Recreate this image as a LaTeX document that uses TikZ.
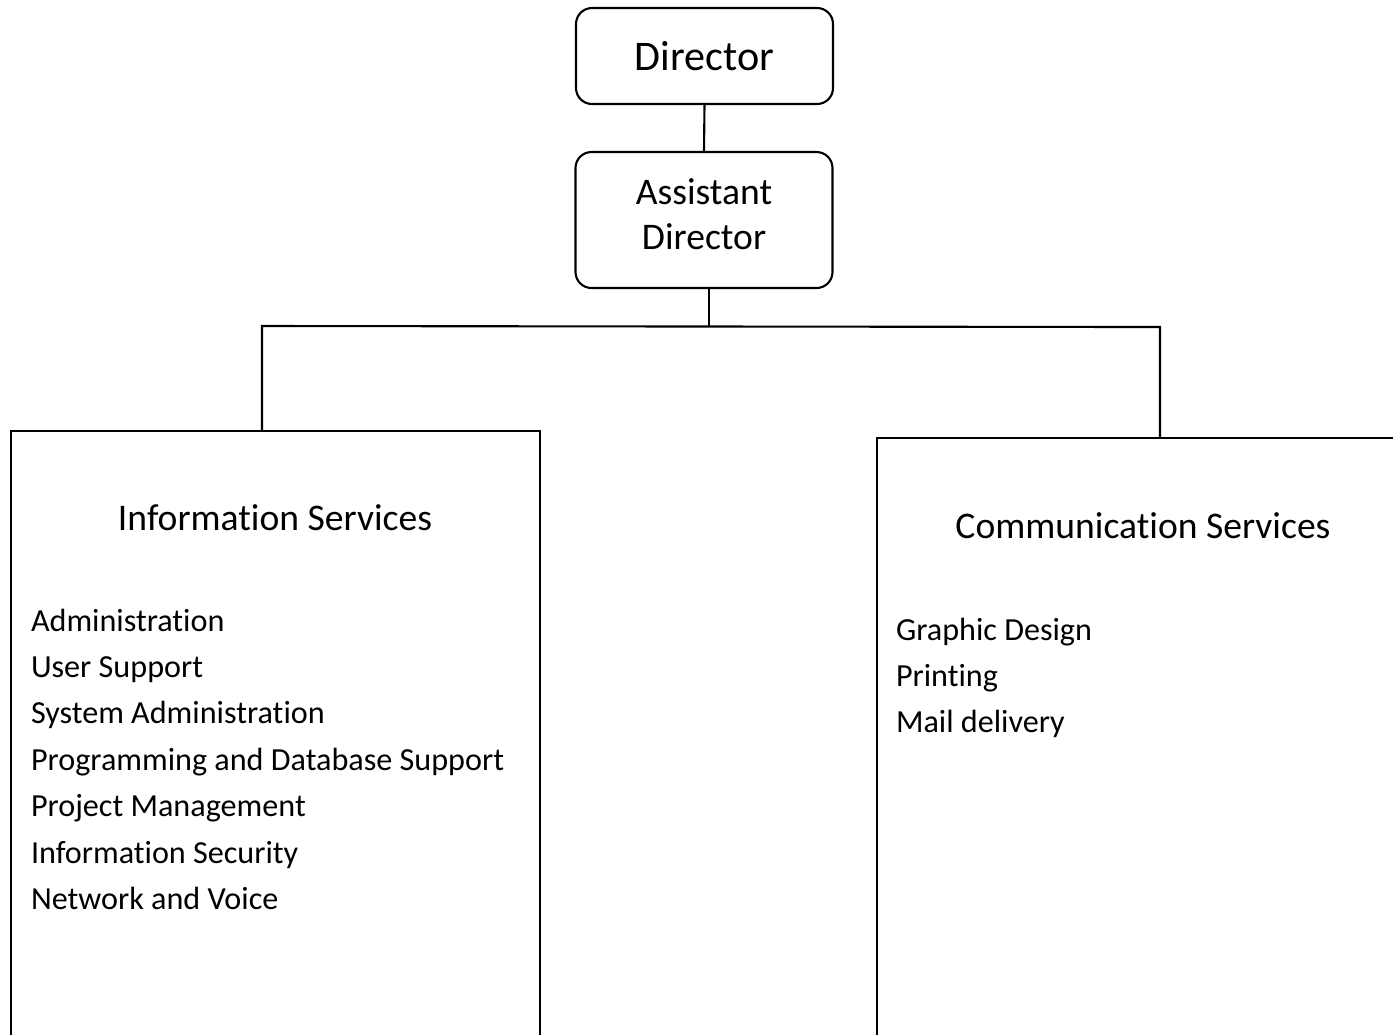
\documentclass[tikz,border=0pt]{standalone}
\usepackage{fontspec}
\setmainfont{Carlito}[Ligatures=NoCommon]
\begin{document}
\begin{tikzpicture}[x=0.1mm,y=-0.1mm,line width=0.6pt,
    every node/.style={inner sep=0pt,outer sep=0pt},
    headbox/.style={draw,rounded corners=0.16cm,minimum width=2.57cm,align=center},
    unitbox/.style={draw,rectangle,anchor=north west},
    unittitle/.style={anchor=base,font=\fontsize{10.7}{13}\selectfont},
    unititem/.style={anchor=base west,font=\fontsize{9.15}{11}\selectfont}]
        \useasboundingbox (0,0) rectangle (1393,1034);
        \clip (0,0) rectangle (1393,1034);

        % top of the chart
        \node[headbox,minimum height=0.96cm,font=\fontsize{12}{14}\selectfont] (dir) at (704.5,56) {Director};
        \node[headbox,minimum height=1.36cm] (asst) at (704,220) {};
        \node[align=center,font=\fontsize{10.7}{12.8}\selectfont] (asstname) at (704,214) {Assistant\\Director};

        \coordinate (busL) at (262,326);
        \coordinate (busR) at (1160,327);

        % the two units, open at the bottom
        \node[unitbox,minimum width=5.29cm,minimum height=7cm] (isbox) at (11,431) {};
        \node[unitbox,minimum width=5.8cm,minimum height=7cm] (csbox) at (877,438) {};

        \draw (dir.south) -- (asst.north);
        \draw (asst.south -| 709,0) -- (busL -| 709,0);
        \draw (isbox.north -| busL) -- (busL) -- (busR) -- (csbox.north west -| busR);

        \node[unittitle] (istitle) at (275,530) {Information Services};
        \node[unittitle] (cstitle) at (1143,538) {Communication Services};

        \foreach \txt [count=\i] in {Administration,User Support,System Administration,Programming and Database Support,Project Management,Information Security,Network and Voice}
            \node[unititem] (is\i) at (31,{631+46.4*(\i-1)}) {\txt};

        \foreach \txt [count=\i] in {Graphic Design,Printing,Mail delivery}
            \node[unititem] (cs\i) at (896,{640+46.4*(\i-1)}) {\txt};
    \end{tikzpicture}
\end{document}
